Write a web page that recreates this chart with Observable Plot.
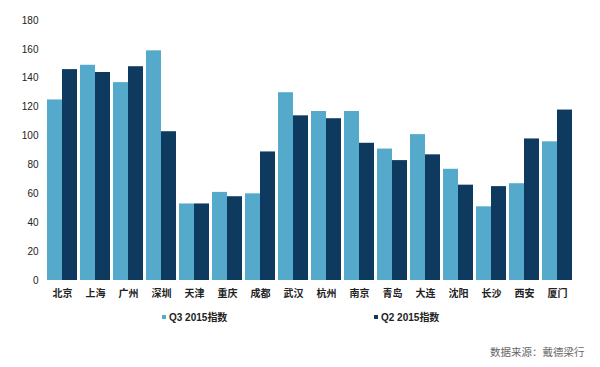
<!DOCTYPE html>
<html>
<head>
<meta charset="utf-8">
<script src="https://cdn.jsdelivr.net/npm/d3@7"></script>
<script src="https://cdn.jsdelivr.net/npm/@observablehq/plot@0.6"></script>
<style>
  body { margin: 0; background: #fff; font-family: "Liberation Sans", "Noto Sans CJK SC", sans-serif; }
  #wrap { position: relative; width: 600px; height: 367px; }
  .leg { position: absolute; top: 309px; font-size: 10px; color: #222; font-weight: bold; display: flex; align-items: center; }
  .sw { width: 4px; height: 4px; margin-right: 3px; display: inline-block; }
  #src { position: absolute; top: 344px; left: 490px; font-size: 10.5px; color: #666; font-family: "Noto Sans CJK SC", sans-serif; }
</style>
</head>
<body>
<div id="wrap">
  <div id="chart"></div>
  <div class="leg" style="left:162px"><span class="sw" style="background:#55aacb"></span><span>Q3 2015<span style="font-family:'Noto Sans CJK SC'">指数</span></span></div>
  <div class="leg" style="left:374px"><span class="sw" style="background:#0f3a60"></span><span>Q2 2015<span style="font-family:'Noto Sans CJK SC'">指数</span></span></div>
  <div id="src">数据来源：戴德梁行</div>
</div>
<script>
const cities = ["北京","上海","广州","深圳","天津","重庆","成都","武汉","杭州","南京","青岛","大连","沈阳","长沙","西安","厦门"];
const q3 = [125,149,137,159,53,61,60,130,117,117,91,101,77,51,67,96];
const q2 = [146,144,148,103,53,58,89,114,112,95,83,87,66,65,98,118];
const seriesNames = ["Q3 2015指数","Q2 2015指数"];
const colors = ["#55aacb","#0f3a60"];
const yTicks = [0,20,40,60,80,100,120,140,160,180];

const data = [];
cities.forEach((c, i) => {
  data.push({city: c, series: seriesNames[0], value: q3[i]});
  data.push({city: c, series: seriesNames[1], value: q2[i]});
});

const chart = Plot.plot({
  width: 600,
  height: 300,
  marginLeft: 45,
  marginRight: 27,
  marginTop: 20,
  marginBottom: 20,
  style: {fontFamily: "'Liberation Sans', 'Noto Sans CJK SC', sans-serif", fontSize: "10px", color: "#222"},
  fx: {domain: cities, padding: 0.1, label: null},
  x: {domain: seriesNames, axis: null, padding: 0},
  y: {domain: [0, 180], label: null},
  color: {domain: seriesNames, range: colors},
  marks: [
    Plot.barY(data, {fx: "city", x: "series", y: "value", fill: "series"}),
    Plot.axisFx({anchor: "bottom", tickSize: 0, tickPadding: 9, fontWeight: "bold", fontFamily: "'Noto Sans CJK SC', sans-serif", fontSize: 10, label: null}),
    Plot.axisY({ticks: yTicks, tickSize: 0, tickPadding: 9, label: null, fontSize: 10})
  ]
});
document.getElementById("chart").appendChild(chart);
</script>
</body>
</html>
